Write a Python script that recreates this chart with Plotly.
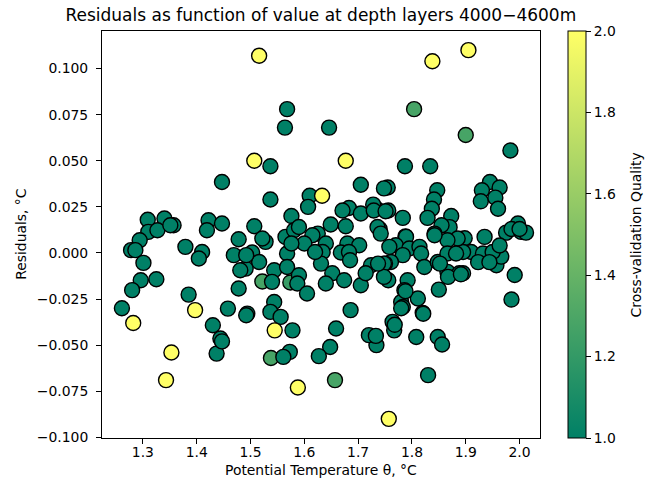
import plotly.graph_objects as go

# Dark-green points (quality = 1)
x_q1 = [1.568, 1.564, 1.646, 1.537, 1.447, 1.537, 1.983, 1.787, 1.834, 1.755, 1.705, 1.748,
        1.945, 1.930, 1.963, 1.928, 1.955, 1.960, 1.847, 1.841, 1.837, 1.829, 1.873, 1.783,
        1.756, 1.734, 1.740, 1.870, 1.855, 1.975, 1.997, 1.985, 1.788, 1.842, 1.898, 1.935,
        2.003, 2.012, 2.000, 1.991, 1.985, 1.895, 1.957, 1.966, 1.910, 1.932, 1.950, 1.963,
        1.895, 1.923, 1.944, 1.885, 1.866, 1.842,
        1.789, 1.770, 1.795, 1.814, 1.817, 1.783, 1.761, 1.823, 1.848, 1.866, 1.882, 1.866,
        1.888, 1.792, 1.786, 1.811, 1.780, 1.783, 1.820, 1.764, 1.767, 1.808, 1.848, 1.830,
        1.856, 1.768, 1.734, 1.821, 1.780, 1.788, 1.756, 1.750, 1.850, 1.867, 1.891, 1.852,
        1.683, 1.671, 1.705, 1.728, 1.729, 1.751, 1.736, 1.742, 1.649, 1.677, 1.625, 1.640,
        1.680, 1.702, 1.634, 1.668, 1.683, 1.758, 1.631, 1.652, 1.674, 1.640, 1.705, 1.724,
        1.748, 1.748, 1.714, 1.686, 1.659, 1.720, 1.685, 1.737,
        1.610, 1.607, 1.576, 1.507, 1.528, 1.522, 1.565, 1.581, 1.590, 1.615, 1.600, 1.568,
        1.503, 1.516, 1.544, 1.568, 1.590, 1.491, 1.540, 1.587, 1.605, 1.494, 1.544, 1.537,
        1.556, 1.578, 1.620, 1.576, 1.648, 1.627, 1.573, 1.561, 1.733,
        1.357, 1.422, 1.447, 1.419, 1.379, 1.410, 1.404, 1.478, 1.469, 1.492, 1.481, 1.478,
        1.385, 1.458, 1.492, 1.430, 1.444, 1.437, 1.447,
        1.309, 1.340, 1.310, 1.327, 1.351, 1.294, 1.278, 1.286, 1.301, 1.296, 1.325, 1.280,
        1.261]
y_q1 = [0.078, 0.068, 0.068, 0.047, 0.0385, 0.029, 0.0556, 0.047, 0.047, 0.0355, 0.037, 0.035,
        0.0385, 0.034, 0.0355, 0.028, 0.030, 0.024, 0.034, 0.029, 0.024, 0.019, 0.020, 0.019,
        0.023, 0.024, 0.013, 0.014, 0.015, 0.011, 0.016, 0.013, 0.009, 0.0105, 0.008, 0.0087,
        0.0114, 0.011, 0.013, -0.012, -0.0253, -0.011, -0.0067, -0.002, 0.0005, -0.0003, 0.0005, 0.004,
        0.0005, -0.005, -0.005, 0.0078, 0.0069, 0.0096,
        0.0087, 0.0042, 0.0024, 0.0033, -0.0003, -0.0012, -0.0049, -0.0076, -0.0049, -0.0003, -0.0003, -0.0103,
        -0.011, -0.0148, -0.0202, -0.0247, -0.0266, -0.0293, -0.0325, -0.0374, -0.042, -0.0456, -0.0456, -0.0663,
        -0.0497, -0.039, -0.050, -0.033, -0.030, -0.0208, -0.0148, -0.0058, -0.0199, -0.013, -0.0116, -0.0058,
        0.0244, 0.023, 0.0214, 0.0262, 0.023, 0.0226, 0.0141, 0.0105, 0.0154, 0.0145, 0.0105, 0.0051,
        0.0051, 0.0042, 0.0005, 0.0002, 0.0005, 0.0033, -0.0058, -0.011, -0.0148, -0.0166, -0.0175, -0.0067,
        -0.0058, -0.013, -0.011, -0.031, -0.041, -0.0446, -0.004, -0.0058,
        0.031, 0.025, 0.020, 0.0145, 0.006, 0.0078, 0.0087, 0.0123, 0.0141, 0.0096, 0.0051, -0.0003,
        0.0002, -0.0049, -0.0094, -0.0076, -0.0121, -0.0085, -0.0157, -0.0166, -0.022, -0.0329, -0.0266, -0.032,
        -0.0347, -0.042, 0.0005, 0.0051, -0.051, -0.056, -0.0537, -0.0564, -0.045,
        0.015, 0.0177, 0.016, 0.0123, 0.0033, 0.0005, -0.003, 0.0074, -0.0012, -0.0012, -0.0094, -0.0193,
        -0.0226, -0.0302, -0.0338, -0.0392, -0.0464, -0.0546, -0.048,
        0.018, 0.0187, 0.0114, 0.0123, 0.015, 0.0069, 0.0015, 0.0015, -0.0054, -0.0148, -0.0143, -0.0202,
        -0.030]

# Intermediate-quality points
x_mid = [1.804, 1.900, 1.522, 1.574, 1.538, 1.657]
y_mid = [0.078, 0.064, -0.0155, -0.016, -0.057, -0.069]
q_mid = [1.28, 1.28, 1.28, 1.22, 1.28, 1.28]

# Yellow points (quality = 2)
x_q2 = [1.516, 1.905, 1.838, 1.507, 1.677, 1.633, 1.282, 1.353, 1.343, 1.397, 1.545, 1.588, 1.757]
y_q2 = [0.107, 0.110, 0.104, 0.050, 0.050, 0.031, -0.038, -0.054, -0.069, -0.031, -0.042, -0.073, -0.090]

xs = x_mid + x_q1 + x_q2
ys = y_mid + y_q1 + y_q2
qs = q_mid + [1.0] * len(x_q1) + [2.0] * len(x_q2)

x_ticks = [1.3, 1.4, 1.5, 1.6, 1.7, 1.8, 1.9, 2.0]
y_ticks = [-0.100, -0.075, -0.050, -0.025, 0.000, 0.025, 0.050, 0.075, 0.100]
cb_ticks = [1.0, 1.2, 1.4, 1.6, 1.8, 2.0]

FONT = "DejaVu Sans"
W, H = 654, 488
L, R, T, B = 101.7, 540.0, 30.7, 438.0
pw, ph = R - L, B - T

fig = go.Figure()
fig.add_trace(go.Scatter(
    x=xs, y=ys, mode="markers",
    marker=dict(
        size=15, color=qs, cmin=1, cmax=2,
        colorscale=[[0, "rgb(0,128,102)"], [1, "rgb(255,255,102)"]],
        line=dict(color="black", width=1.4),
        opacity=1,
        colorbar=dict(
            x=(568 - L) / pw, xanchor="left", xref="paper",
            y=0.5, yanchor="middle", len=1, lenmode="fraction",
            xpad=0, ypad=0,
            thickness=18, outlinewidth=1, outlinecolor="black",
            tickvals=cb_ticks, tickformat=".1f", tickprefix=" ",
            ticks="outside", ticklen=5,
            tickwidth=1, tickcolor="black",
            tickfont=dict(family=FONT, size=13.9, color="black"),
        ),
    ),
    showlegend=False,
))

axis_common = dict(
    showline=True, linecolor="black", linewidth=1, mirror=True,
    ticks="outside", ticklen=5, tickwidth=1, tickcolor="black",
    showgrid=False, zeroline=False,
    tickfont=dict(family=FONT, size=13.9, color="black"),
)
fig.update_xaxes(range=[1.224, 2.038], tickvals=x_ticks, tickformat=".1f",
                 ticklabelstandoff=-4, **axis_common)
fig.update_yaxes(range=[-0.1004, 0.1204], tickvals=y_ticks, tickformat=".3f",
                 ticklabelstandoff=5, **axis_common)

fig.update_layout(
    width=W, height=H,
    margin=dict(l=L, r=W - R, t=T, b=H - B, pad=0, autoexpand=False),
    plot_bgcolor="white", paper_bgcolor="white",
    font=dict(family=FONT, color="black"),
    title=dict(text="Residuals as function of value at depth layers 4000\u22124600m",
               x=(L + R) / 2 / W, xanchor="center", xref="container",
               y=1 - 15 / H, yanchor="middle", yref="container",
               font=dict(family=FONT, size=17, color="black")),
    annotations=[
        dict(text="Potential Temperature \u03b8, \u00b0C", xref="paper", yref="paper",
             x=0.5, y=(B - 470) / ph, xanchor="center", yanchor="middle",
             showarrow=False, font=dict(family=FONT, size=13.9, color="black")),
        dict(text="Residuals, \u00b0C", xref="paper", yref="paper",
             x=(20 - L) / pw, y=0.5, xanchor="center", yanchor="middle", textangle=-90,
             showarrow=False, font=dict(family=FONT, size=13.9, color="black")),
        dict(text="Cross-validation Quality", xref="paper", yref="paper",
             x=(636 - L) / pw, y=0.5, xanchor="center", yanchor="middle", textangle=-90,
             showarrow=False, font=dict(family=FONT, size=13.9, color="black")),
    ],
)

fig.write_html("out.html")
